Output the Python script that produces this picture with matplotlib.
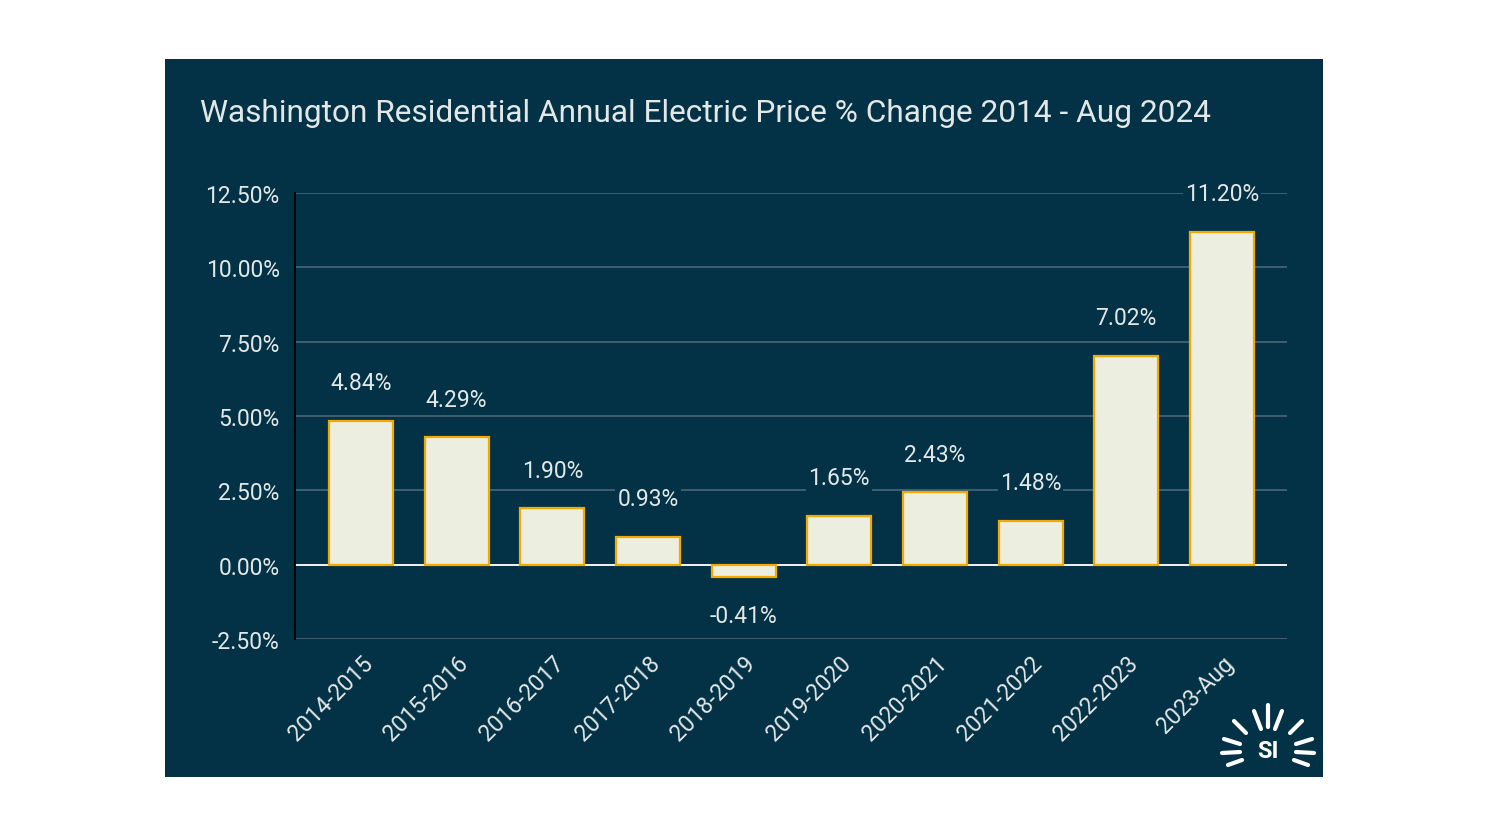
import matplotlib
matplotlib.use("Agg")
import matplotlib.pyplot as plt
from matplotlib.patches import Rectangle
from matplotlib.lines import Line2D

categories = ["2014-2015", "2015-2016", "2016-2017", "2017-2018", "2018-2019",
              "2019-2020", "2020-2021", "2021-2022", "2022-2023", "2023-Aug"]
values = [4.84, 4.29, 1.90, 0.93, -0.41, 1.65, 2.43, 1.48, 7.02, 11.20]
yticks = [-2.5, 0.0, 2.5, 5.0, 7.5, 10.0, 12.5]
title = "Washington Residential Annual Electric Price % Change 2014 - Aug 2024"

NAVY = "#033246"
TXT = "#e3e8e6"
FILL = "#eceee0"
EDGE = "#f5a800"
GRID = "#4b6878"
FS = 16.5

W, H = 1488, 837
fig = plt.figure(figsize=(W / 100, H / 100), dpi=100)
fig.patch.set_facecolor("white")

# dark panel
fig.patches.append(Rectangle((165 / W, 1 - 778 / H), (1323 - 165) / W, (778 - 60) / H,
                             transform=fig.transFigure, facecolor=NAVY, edgecolor="none", zorder=-5))

fig.text(200 / W, 1 - 114 / H, title, color=TXT, fontsize=22.8, family="Roboto",
         ha="left", va="center")

ax = fig.add_axes([295 / W, 1 - 640 / H, 992 / W, 446 / H])
ax.set_zorder(2)
ax.set_facecolor("none")
x = list(range(len(categories)))
ax.bar(x, values, width=0.67, color=FILL, edgecolor=EDGE, linewidth=1.6, zorder=3)
ax.set_xlim(-0.69, 9.68)
ax.set_ylim(-2.5, 12.5)
ax.set_yticks(yticks)
ax.set_yticklabels([f"{v:.2f}%" for v in yticks])
ax.yaxis.grid(True, color=GRID, linewidth=1.2, zorder=0)
ax.set_axisbelow(True)
ax.axhline(0, color="white", linewidth=1.3, zorder=2)
for s in ["top", "right", "bottom"]:
    ax.spines[s].set_visible(False)
ax.spines["left"].set_color("black")
ax.spines["left"].set_linewidth(1.3)
ax.tick_params(axis="both", length=0, colors=TXT, labelsize=FS)
ax.tick_params(axis="y", pad=11)
for lab in ax.get_yticklabels():
    lab.set_family("Roboto")
ax.set_xticks(x)
ax.set_xticklabels(categories, rotation=45, ha="right", rotation_mode="anchor",
                   family="Roboto", fontsize=FS)
ax.tick_params(axis="x", pad=9)

for xi, v in zip(x, values):
    off = 1.28 if v >= 0 else -1.3
    ax.text(xi, v + off, f"{v:.2f}%", ha="center", va="center", color=TXT,
            fontsize=FS, family="Roboto", zorder=4,
            bbox=dict(facecolor=NAVY, edgecolor="none", pad=1.5))

# logo
cx, cy = 1268, 752
rays = [(-46, -2, -28, -1), (28, -1, 46, -2),
        (-44, 12, -28, 7), (28, 7, 44, 12),
        (-40, -14, -26, -9), (26, -9, 40, -14),
        (-34, 30, -22, 18), (22, 18, 34, 30),
        (-14, 40, -7, 22), (7, 22, 14, 40), (0, 46, 0, 24)]
for x0, y0, x1, y1 in rays:
    fig.lines.append(Line2D([(cx + x0) / W, (cx + x1) / W], [1 - (cy - y0) / H, 1 - (cy - y1) / H],
                            transform=fig.transFigure, color="white", linewidth=3,
                            solid_capstyle="round"))
fig.text(cx / W, 1 - cy / H, "SI", color="white", fontsize=17, fontweight="bold",
         family="Roboto", ha="center", va="center")

fig.savefig("out.png", dpi=100, facecolor="white")
